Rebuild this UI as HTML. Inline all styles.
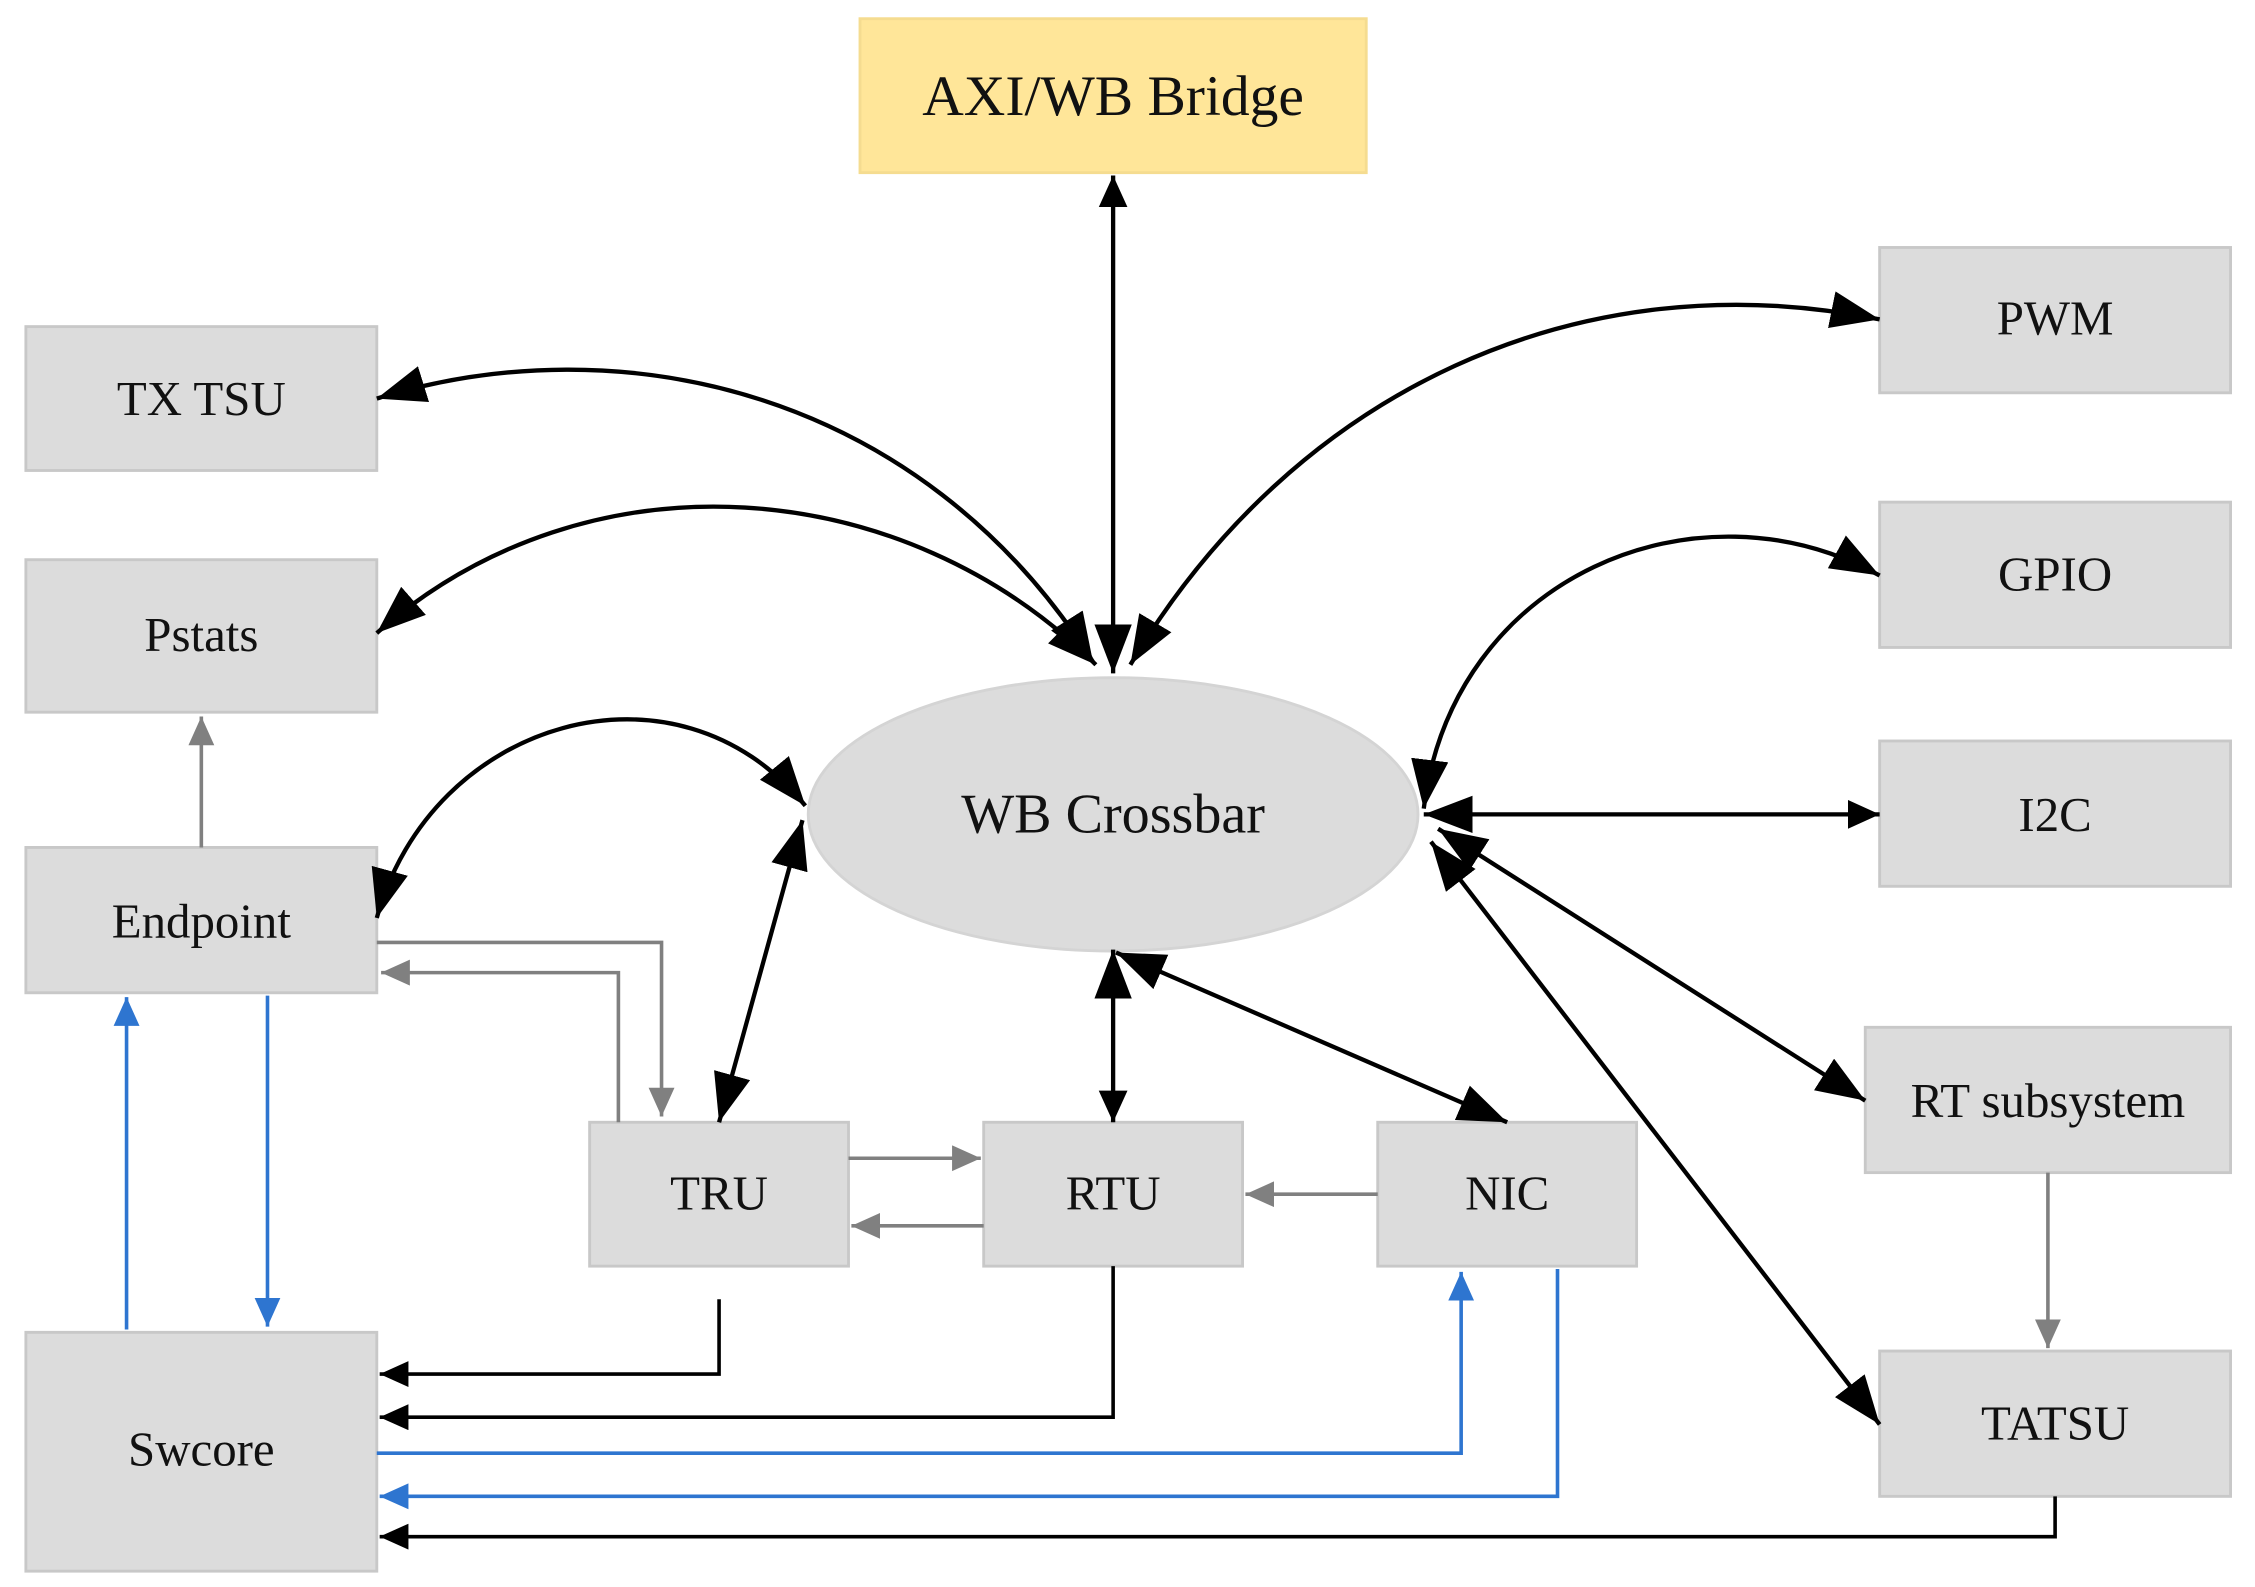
<!DOCTYPE html>
<html><head><meta charset="utf-8"><style>
html,body{margin:0;padding:0;background:#fff;}
svg{display:block;}
text{font-family:"Liberation Serif",serif;font-size:34px;fill:#111;text-anchor:middle;dominant-baseline:central;}
</style></head><body>
<svg width="2255" height="1587" viewBox="0 0 1568 1103" preserveAspectRatio="none" xmlns="http://www.w3.org/2000/svg">
<defs>
<marker id="ab" markerUnits="userSpaceOnUse" markerWidth="40" markerHeight="30" refX="34" refY="13" orient="auto-start-reverse"><path d="M0,0 L34,13 L0,26 z" fill="#000"/></marker>
<marker id="as" markerUnits="userSpaceOnUse" markerWidth="24" markerHeight="24" refX="22" refY="10" orient="auto-start-reverse"><path d="M0,0 L22,10 L0,20 z" fill="#000"/></marker>
<marker id="ag" markerUnits="userSpaceOnUse" markerWidth="24" markerHeight="20" refX="20" refY="9" orient="auto"><path d="M0,0 L20,9 L0,18 z" fill="#808080"/></marker>
<marker id="au" markerUnits="userSpaceOnUse" markerWidth="24" markerHeight="20" refX="20" refY="9" orient="auto"><path d="M0,0 L20,9 L0,18 z" fill="#2e75d0"/></marker>
<marker id="ak" markerUnits="userSpaceOnUse" markerWidth="24" markerHeight="20" refX="20" refY="9" orient="auto"><path d="M0,0 L20,9 L0,18 z" fill="#000"/></marker>
</defs>
<g fill="#dcdcdc" stroke="#c8c8c8" stroke-width="2">
<rect x="598" y="13" width="352" height="107" fill="#ffe699" stroke="#f5dc90"/>
<rect x="18" y="227" width="244" height="100"/>
<rect x="18" y="389" width="244" height="106"/>
<rect x="18" y="589" width="244" height="101"/>
<rect x="18" y="926" width="244" height="166"/>
<rect x="410" y="780" width="180" height="100"/>
<rect x="684" y="780" width="180" height="100"/>
<rect x="958" y="780" width="180" height="100"/>
<rect x="1307" y="172" width="244" height="101"/>
<rect x="1307" y="349" width="244" height="101"/>
<rect x="1307" y="515" width="244" height="101"/>
<rect x="1297" y="714" width="254" height="101"/>
<rect x="1307" y="939" width="244" height="101"/>
<ellipse cx="774" cy="566" rx="212" ry="95" stroke="#d4d4d4"/>
</g>
<text x="774" y="67" style="font-size:40px">AXI/WB Bridge</text>
<text x="140" y="277">TX TSU</text>
<text x="140" y="441">Pstats</text>
<text x="140" y="640">Endpoint</text>
<text x="140" y="1007">Swcore</text>
<text x="500" y="829">TRU</text>
<text x="774" y="829">RTU</text>
<text x="1048" y="829">NIC</text>
<text x="1429" y="221">PWM</text>
<text x="1429" y="399">GPIO</text>
<text x="1429" y="566">I2C</text>
<text x="1424" y="765">RT subsystem</text>
<text x="1429" y="989">TATSU</text>
<text x="774" y="566" style="font-size:39px">WB Crossbar</text>
<g fill="none" stroke="#000" stroke-width="3">
<path d="M774 468 L774 122" marker-start="url(#ab)" marker-end="url(#as)"/>
<path d="M760 460 C 640 270, 430 225, 262 277" marker-start="url(#ab)" marker-end="url(#ab)"/>
<path d="M762 462 C 630 330, 410 310, 262 440" marker-start="url(#ab)" marker-end="url(#ab)"/>
<path d="M786 462 C 900 270, 1100 180, 1307 222" marker-start="url(#ab)" marker-end="url(#ab)"/>
<path d="M1307 400 C 1180 330, 1010 400, 990 562" marker-end="url(#ab)" marker-start="url(#ab)"/>
<path d="M990 566 L1307 566" marker-start="url(#ab)" marker-end="url(#as)"/>
<path d="M1000 576 L1297 765" marker-start="url(#ab)" marker-end="url(#ab)"/>
<path d="M995 585 L1307 990" marker-start="url(#ab)" marker-end="url(#ab)"/>
<path d="M262 638 C 300 500, 470 450, 560 560" marker-start="url(#ab)" marker-end="url(#ab)"/>
<path d="M558 570 L500 780" marker-start="url(#ab)" marker-end="url(#ab)"/>
<path d="M774 660 L774 780" marker-start="url(#ab)" marker-end="url(#as)"/>
<path d="M776 662 L1048 780" marker-start="url(#ab)" marker-end="url(#ab)"/>
</g>
<g fill="none" stroke="#808080" stroke-width="2.5">
<path d="M140 589 L140 498" marker-end="url(#ag)"/>
<path d="M262 655 L460 655 L460 776" marker-end="url(#ag)"/>
<path d="M430 780 L430 676 L265 676" marker-end="url(#ag)"/>
<path d="M590 805 L682 805" marker-end="url(#ag)"/>
<path d="M684 852 L592 852" marker-end="url(#ag)"/>
<path d="M958 830 L866 830" marker-end="url(#ag)"/>
<path d="M1424 815 L1424 937" marker-end="url(#ag)"/>
</g>
<g fill="none" stroke="#2e75d0" stroke-width="2.5">
<path d="M88 924 L88 693" marker-end="url(#au)"/>
<path d="M186 692 L186 922" marker-end="url(#au)"/>
<path d="M262 1010 L1016 1010 L1016 884" marker-end="url(#au)"/>
<path d="M1083 882 L1083 1040 L264 1040" marker-end="url(#au)"/>
</g>
<g fill="none" stroke="#000" stroke-width="2.5">
<path d="M500 903 L500 955 L264 955" marker-end="url(#ak)"/>
<path d="M774 880 L774 985 L264 985" marker-end="url(#ak)"/>
<path d="M1429 1040 L1429 1068 L264 1068" marker-end="url(#ak)"/>
</g>
</svg>
</body></html>
